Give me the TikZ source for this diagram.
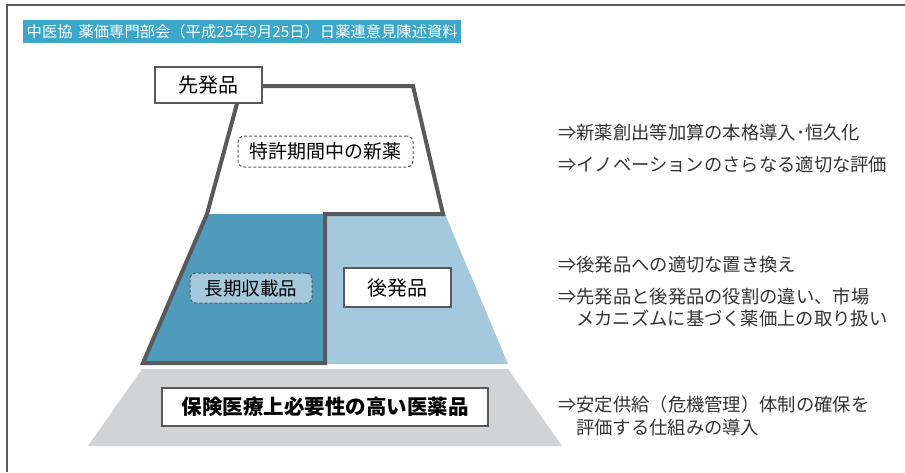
\documentclass[tikz,border=0pt]{standalone}
\usepackage{fontspec}
\newfontfamily\jp{Noto Sans CJK JP}
\definecolor{framec}{HTML}{58595B}
\definecolor{titlec}{HTML}{3BA7CB}
\definecolor{darkblue}{HTML}{4F9BBC}
\definecolor{lightblue}{HTML}{A4C9DC}
\definecolor{grayc}{HTML}{D1D3D4}
\definecolor{outlinec}{HTML}{58595B}
\definecolor{textc}{HTML}{333333}
\tikzset{
  labelbox/.style={draw=outlinec, fill=white, inner sep=0pt, text=black},
  dashbox/.style={draw=outlinec, dash pattern=on 3pt off 2pt, line width=1pt, rounded corners=6pt, inner sep=0pt, text=black},
  righttext/.style={anchor=west, inner sep=0pt, text=textc, font=\jp\fontsize{18.3}{18.3}\selectfont},
}
\begin{document}
\begin{tikzpicture}[x=1pt,y=-1pt]
\useasboundingbox (0,0) rectangle (905,472);
% frame
\draw[framec, line width=1.5pt] (7,472) -- (7,5) -- (905,5);
% title banner
\node[fill=titlec, text=white, anchor=north west, minimum width=438pt, minimum height=23pt, inner sep=0pt,
      font=\jp\fontsize{15.3}{15.3}\selectfont] (title) at (23,20) {中医協\hspace{6pt}薬価専門部会（平成25年9月25日）日薬連意見陳述資料};
% coloured regions
\fill[darkblue] (207,214) -- (325,214) -- (325,363) -- (143,363) -- cycle;
\fill[lightblue] (325,214) -- (445,214) -- (508,364) -- (325,364) -- cycle;
\fill[grayc] (142,369) -- (508,369) -- (562,446) -- (88,446) -- cycle;
% outline of the originator region
\coordinate (ptop) at (238,100);
\draw[outlinec, line width=4pt, line join=miter] (ptop) -- (207,214) -- (143,363) -- (325,363) -- (325,214) -- (443,214) -- (413,86) -- (250,86);
% boxes
\node[labelbox, line width=2pt, minimum width=107pt, minimum height=36pt, font=\jp\fontsize{20}{20}\selectfont] (sen) at (208.5,85) {先発品};
\node[dashbox, fill=white, minimum width=175pt, minimum height=31pt, font=\jp\fontsize{19}{19}\selectfont] (tokkyo) at (325.5,151.5) {特許期間中の新薬};
\node[dashbox, fill=lightblue, minimum width=122pt, minimum height=30pt, font=\jp\fontsize{18.5}{18.5}\selectfont] (choki) at (251,288) {長期収載品};
\node[labelbox, line width=1.2pt, minimum width=107pt, minimum height=39pt, font=\jp\fontsize{20}{20}\selectfont] (kohatsu) at (397.5,287.5) {後発品};
\node[labelbox, line width=1.2pt, minimum width=326pt, minimum height=38pt, font=\jp\bfseries\fontsize{20.5}{20.5}\selectfont] (hoken) at (325,407) {保険医療上必要性の高い医薬品};
% right texts
\node[righttext] (r1) at (558,133) {⇒新薬創出等加算の本格導入･恒久化};
\node[righttext] (r2) at (558,165) {⇒イノベーションのさらなる適切な評価};
\node[righttext] (r3) at (558,265) {⇒後発品への適切な置き換え};
\node[righttext] (r4) at (558,297) {⇒先発品と後発品の役割の違い、市場};
\node[righttext] (r5) at (576,318) {メカニズムに基づく薬価上の取り扱い};
\node[righttext] (r6) at (558,405) {⇒安定供給（危機管理）体制の確保を};
\node[righttext] (r7) at (576,428) {評価する仕組みの導入};
\end{tikzpicture}
\end{document}
